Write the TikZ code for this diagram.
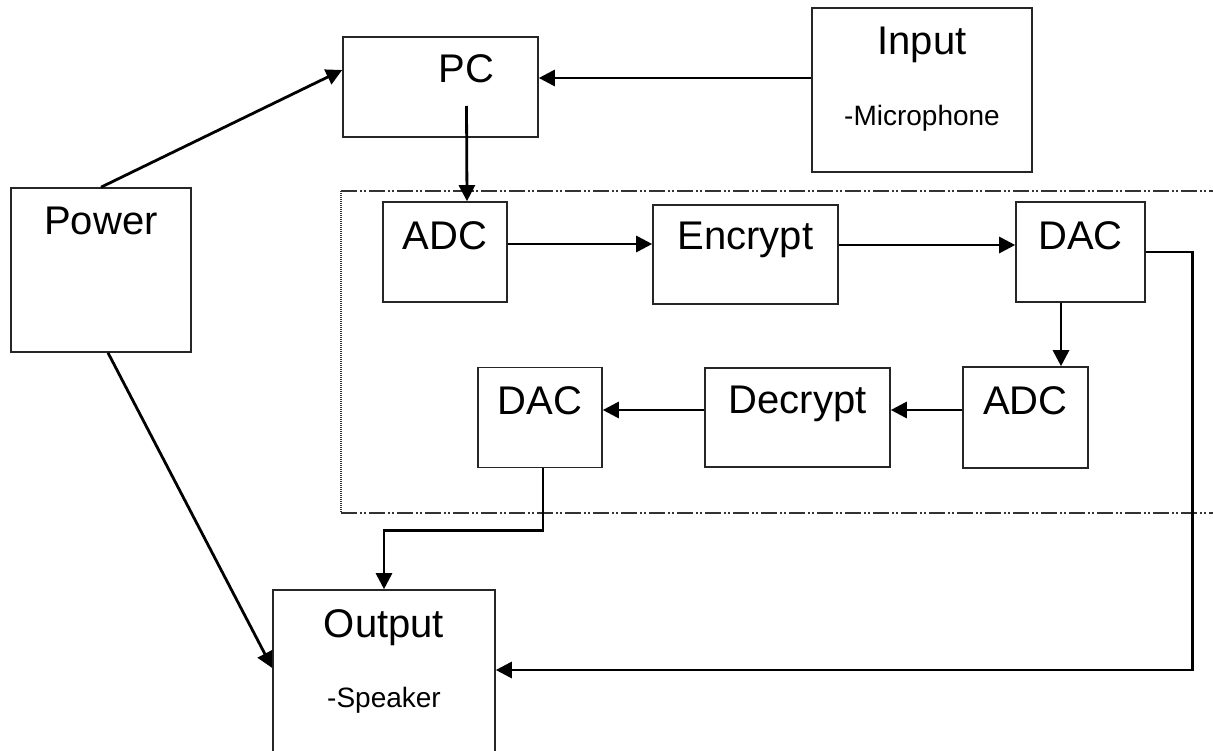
\documentclass[tikz,border=0pt]{standalone}
\usepackage{fontspec}
\setmainfont{Liberation Sans}
\usepackage{tikz}
\usetikzlibrary{positioning,arrows.meta,calc}
\newcommand{\bigtxt}{\fontsize{40}{44}\selectfont}
\newcommand{\subtxt}{\fontsize{28}{32}\selectfont}

\begin{document}
\begin{tikzpicture}[x=1pt,y=-1pt,>={Triangle[length=16pt,width=16pt]},
  blk/.style={draw=black!85,line width=1.6pt,inner sep=0pt},
  ttl/.style={anchor=north,inner sep=0pt,yshift=-20pt,font=\bigtxt},
  sub/.style={anchor=north,inner sep=0pt,yshift=-98pt,font=\subtxt},
  arr/.style={->,line width=2.8pt},
  frame/.style={draw=black!80,line width=1.1pt,dash pattern=on 16pt off 3pt on 2pt off 2pt on 2pt off 3pt}]
  \useasboundingbox (0,0) rectangle (1213,751);
  \clip (0,0) rectangle (1213,751);

  % boxes outside the secure part
  \node[blk,minimum width=180pt,minimum height=164pt,label={[ttl]north:Power}] (pow) at (101,270) {};
  \node[blk,minimum width=195pt,minimum height=100pt,label={[ttl,xshift=26pt,yshift=2pt]north:PC}] (pc) at (440.5,87) {};
  \node[blk,minimum width=220pt,minimum height=164pt,label={[ttl]north:Input},label={[sub]north:-Microphone}] (inp) at (922,90) {};
  \node[blk,minimum width=222pt,minimum height=180pt,label={[ttl]north:Output},label={[sub]north:-Speaker}] (outp) at (384,680) {};

  % encrypt / decrypt chain
  \node[blk,minimum width=124pt,minimum height=100pt,label={[ttl]north:ADC}] (adcA) at (445,252) {};
  \node[blk,minimum width=185pt,minimum height=99pt,right=144.4pt of adcA,yshift=-2.5pt,label={[ttl,yshift=2pt]north:Encrypt}] (enc) {};
  \node[blk,minimum width=129pt,minimum height=100pt,right=176.4pt of enc,yshift=2.5pt,label={[ttl]north:DAC}] (dacA) {};
  \node[blk,minimum width=125pt,minimum height=101pt,label={[ttl]north:ADC}] (adcB) at (1025.5,417.5) {};
  \node[blk,minimum width=185pt,minimum height=99pt,left=71.4pt of adcB,label={[ttl,yshift=1pt]north:Decrypt}] (dec) {};
  \node[blk,minimum width=124pt,minimum height=100pt,left=101.4pt of dec,label={[ttl]north:DAC}] (dacB) {};

  % frame round the chain
  \draw[frame] (341,191) -- (1213,191);
  \draw[frame] (341,513) -- (1213,513);
  \draw[black!80,line width=1.5pt,dash pattern=on 1pt off 1pt] (341,191) -- (341,513);

  % connections
  \draw[arr] (pow.north) -- ([yshift=17pt]pc.west);
  \draw[arr] ([xshift=7pt]pow.south) -- ([yshift=12pt]outp.west);
  \draw[arr] ([yshift=12pt]inp.west) -- ([yshift=12pt]inp.west -| pc.east);
  \draw[arr] ([xshift=26pt,yshift=-19pt]pc.center) -- ([xshift=22pt]adcA.north);
  \draw[arr] ([yshift=8pt]adcA.east) -- ([yshift=8pt]adcA.east -| enc.west);
  \draw[arr] ([yshift=9.5pt]enc.east) -- ([yshift=9.5pt]enc.east -| dacA.west);
  \draw[arr] ([xshift=-19.5pt]dacA.south) -- ([xshift=-19.5pt]dacA.south |- adcB.north);
  \draw[arr] ([yshift=7.5pt]adcB.west) -- ([yshift=7.5pt]adcB.west -| dec.east);
  \draw[arr] ([yshift=7.5pt]dec.west) -- ([yshift=7.5pt]dec.west -| dacB.east);
  \draw[arr] ([xshift=3pt]dacB.south) -- ++(0,62) -| (outp.north);
  \draw[arr] (dacA.east) -- ++(47,0) |- ([yshift=10pt]outp.east);
\end{tikzpicture}
\end{document}
